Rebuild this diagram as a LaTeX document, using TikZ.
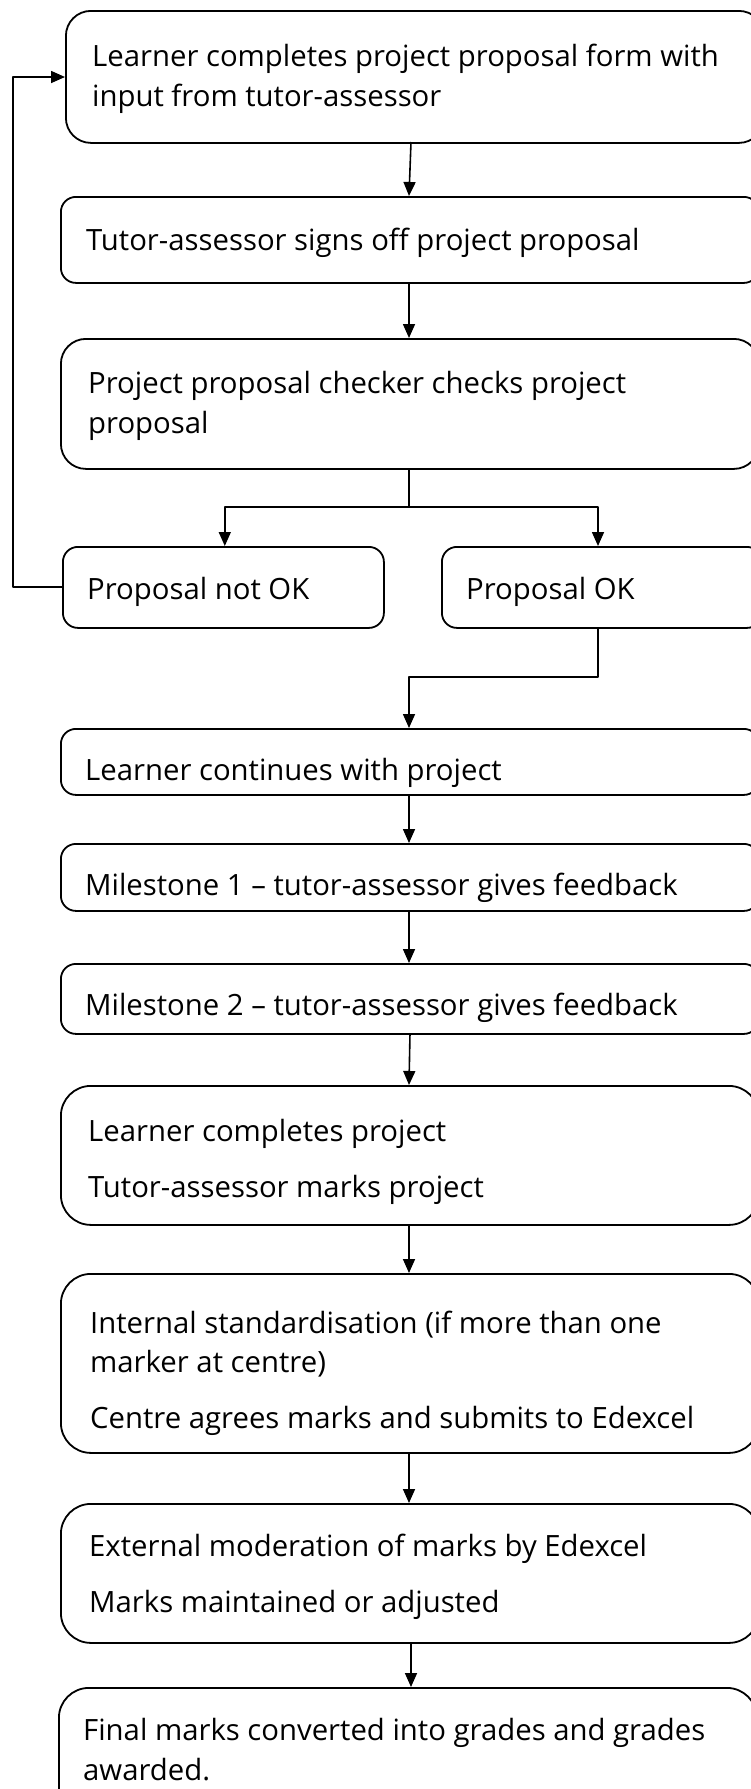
\documentclass[tikz,border=0pt]{standalone}
\usepackage{fontspec}
\setmainfont{Open Sans}
\usetikzlibrary{arrows.meta}
\begin{document}
\begin{tikzpicture}[x=1pt,y=1pt,line join=round,>={Triangle[length=14pt,width=12pt]},
	procbox/.style={draw,line width=1.8pt,anchor=north west,inner sep=0pt,minimum width=698pt},
	lbl/.style={anchor=base west,align=left,inner sep=0pt,font=\fontsize{29.3}{39.5}\selectfont},
	conn/.style={line width=1.6pt}]
	\useasboundingbox (0,0) rectangle (750,-1789);
	
	\node[procbox,minimum height=132pt,rounded corners=25pt] (b1) at (65,-10) {};
	\node[procbox,minimum height=86pt,rounded corners=15pt] (b2) at (60,-196) {};
	\node[procbox,minimum height=130pt,rounded corners=25pt] (b3) at (60,-338) {};
	\node[procbox,minimum width=321pt,minimum height=81pt,rounded corners=15pt] (nok) at (62,-546) {};
	\node[procbox,minimum width=320pt,minimum height=81pt,rounded corners=15pt] (ok) at (441,-546) {};
	\node[procbox,minimum height=66pt,rounded corners=15pt] (b4) at (60,-728) {};
	\node[procbox,minimum height=67pt,rounded corners=15pt] (b5) at (60,-843) {};
	\node[procbox,minimum height=70pt,rounded corners=15pt] (b6) at (60,-963) {};
	\node[procbox,minimum height=139pt,rounded corners=30pt] (b7) at (60,-1085) {};
	\node[procbox,minimum height=179pt,rounded corners=30pt] (b8) at (60,-1273) {};
	\node[procbox,minimum height=139pt,rounded corners=30pt] (b9) at (60,-1503) {};
	\node[procbox,minimum height=150pt,rounded corners=30pt] (b10) at (58,-1687) {};
	
	% base anchor of a multi-line label is its last line
	\node[lbl] (t1) at (92,-106) {Learner completes project proposal form with\\input from tutor-assessor};
	\node[lbl] (t2) at (86,-250) {Tutor-assessor signs off project proposal};
	\node[lbl] (t3) at (88,-433) {Project proposal checker checks project\\proposal};
	\node[lbl] (tnok) at (87,-599) {Proposal not OK};
	\node[lbl] (tok) at (466,-599) {Proposal OK};
	\node[lbl] (t4) at (85,-780) {Learner continues with project};
	\node[lbl] (t5) at (85,-895) {Milestone 1 -- tutor-assessor gives feedback};
	\node[lbl] (t6) at (85,-1015) {Milestone 2 -- tutor-assessor gives feedback};
	\node[lbl] (t7) at (88,-1197) {Learner completes project\\[16pt]Tutor-assessor marks project};
	\node[lbl] (t8) at (90,-1428) {Internal standardisation (if more than one\\marker at centre)\\[16pt]Centre agrees marks and submits to Edexcel};
	\node[lbl] (t9) at (89,-1612) {External moderation of marks by Edexcel\\[16pt]Marks maintained or adjusted};
	\node[lbl] (t10) at (83,-1780) {Final marks converted into grades and grades\\awarded.};
	
	\coordinate (split) at (409,-507);
	\coordinate (bend) at (598,-677);
	\coordinate (loopa) at (13,-587);
	\coordinate (loopb) at (13,-77);
	
	\draw[conn,->] (411,-142) -- (409,-196);
	\draw[conn,->] (b2.south -| split) -- (b3.north -| split);
	\draw[conn] (b3.south -| split) -- (split);
	\draw[conn,->] (split) -| ([xshift=-160pt]nok.north east);
	\draw[conn,->] (split) -| (bend |- ok.north);
	\draw[conn,->] (ok.south -| bend) -- (bend) -| (b4.north -| split);
	\draw[conn,->] (nok.west |- loopa) -- (loopa) -- (loopb) -- (b1.west |- loopb);
	\draw[conn,->] (b4.south -| split) -- (b5.north -| split);
	\draw[conn,->] (b5.south -| split) -- (b6.north -| split);
	\draw[conn,->] (410,-1033) -- (409,-1085);
	\draw[conn,->] (b7.south -| split) -- (b8.north -| split);
	\draw[conn,->] (b8.south -| split) -- (b9.north -| split);
	\draw[conn,->] (411,-1642) -- (411,-1687);
\end{tikzpicture}
\end{document}
